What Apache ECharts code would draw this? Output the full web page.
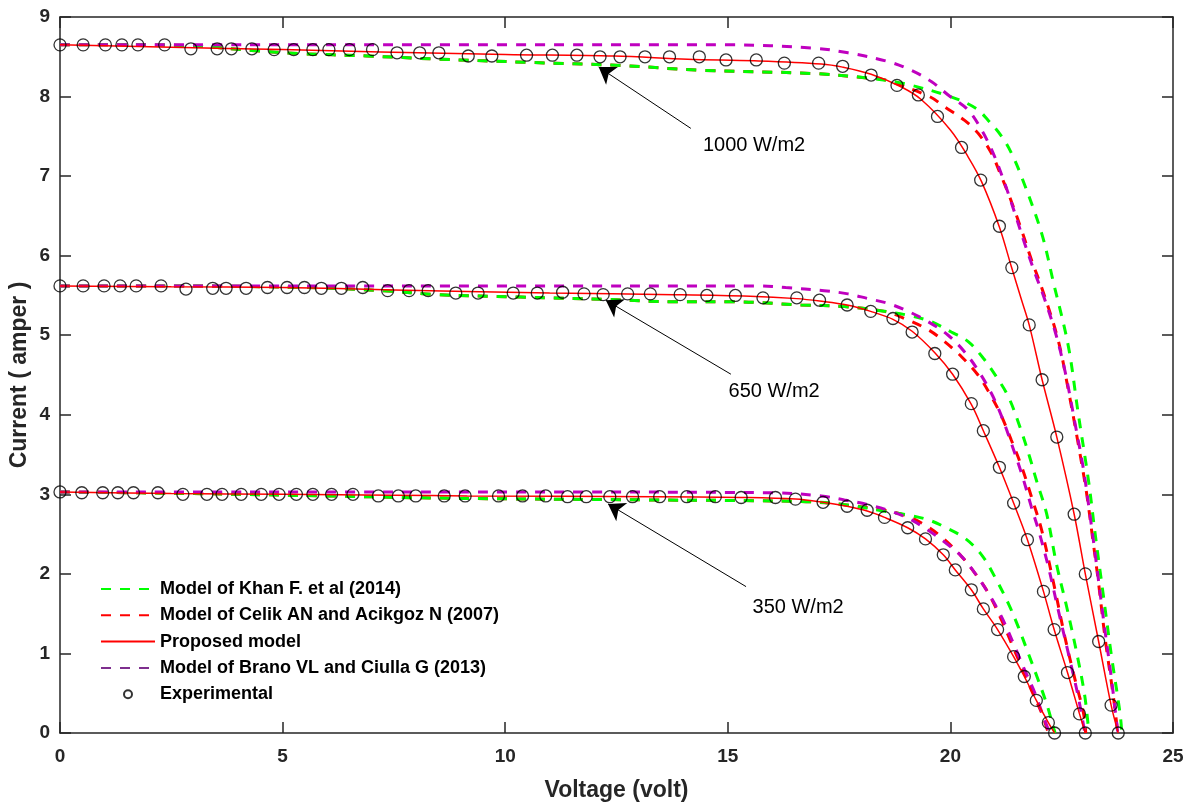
<!DOCTYPE html>
<html><head><meta charset="utf-8">
<script src="https://cdn.jsdelivr.net/npm/echarts@6/dist/echarts.min.js"></script>
<style>html,body{margin:0;padding:0;background:#fff}#c{width:1188px;height:803px}</style>
</head><body><div id="c"></div>
<script>
// ---------- axes ----------
const xRange = [0, 25], xStep = 5;
const yRange = [0, 9], yStep = 1;
const xTitle = 'Voltage (volt)';
const yTitle = 'Current ( amper )';
const legendNames = ['Model of Khan F. et al (2014)', 'Model of Celik AN and Acikgoz N (2007)', 'Proposed model', 'Model of Brano VL and Ciulla G (2013)', 'Experimental'];

// ---------- 1000 W/m2 ----------
const khan1000 = [[0,8.65],[1.5,8.65],[2.9,8.64],[4.3,8.58],[5.4,8.54],[6.9,8.51],[8.5,8.47],[10.5,8.43],[12.6,8.39],[14.4,8.33],[16.9,8.29],[18.2,8.23],[18.9,8.17],[20.0,8.00],[20.58,7.85],[20.85,7.70],[21.15,7.50],[21.37,7.29],[21.6,6.99],[22.05,6.28],[22.32,5.65],[22.65,4.86],[22.87,4.02],[23.10,3.18],[23.25,2.51],[23.44,1.71],[23.62,0.96],[23.81,0.25],[23.85,0]];
const celik1000 = [[0,8.65],[1.5,8.65],[2.9,8.64],[4.3,8.58],[5.4,8.54],[6.9,8.51],[8.5,8.47],[10.5,8.43],[12.6,8.39],[14.4,8.33],[16.9,8.29],[18.2,8.23],[18.52,8.21],[19.53,8.00],[19.87,7.87],[20.32,7.70],[20.62,7.54],[20.92,7.29],[21.15,6.99],[21.33,6.74],[21.60,6.32],[21.82,5.95],[22.08,5.55],[22.42,4.94],[22.65,4.31],[22.87,3.64],[23.06,3.01],[23.19,2.47],[23.32,1.92],[23.48,1.17],[23.66,0.46],[23.76,0]];
const brano1000 = [[0,8.65],[5,8.65],[10,8.65],[15,8.65],[16.9,8.61],[17.7,8.55],[18.6,8.44],[19.12,8.33],[19.57,8.19],[19.95,8.02],[20.4,7.83],[20.7,7.58],[20.96,7.29],[21.22,6.91],[21.45,6.53],[21.67,6.15],[21.9,5.78],[22.1,5.48],[22.35,5.05],[22.57,4.56],[22.80,3.89],[22.99,3.31],[23.13,2.76],[23.27,2.17],[23.44,1.42],[23.62,0.67],[23.76,0]];
const prop1000 = [[0,8.65],[2.5,8.62],[5,8.59],[7.2,8.56],[10,8.53],[12.45,8.51],[14.1,8.47],[15.6,8.45],[17.1,8.41],[17.58,8.37],[18.22,8.28],[18.9,8.12],[19.35,7.96],[20.0,7.58],[20.4,7.24],[20.7,6.93],[21.1,6.36],[21.37,5.86],[21.6,5.44],[21.77,5.13],[22.06,4.44],[22.39,3.72],[22.78,2.75],[23.03,2.0],[23.33,1.15],[23.61,0.35],[23.77,0]];
const exp1000 = [[0,8.65],[0.52,8.65],[1.02,8.65],[1.39,8.65],[1.75,8.65],[2.35,8.65],[2.94,8.60],[3.53,8.60],[3.85,8.60],[4.31,8.60],[4.81,8.59],[5.25,8.59],[5.68,8.59],[6.04,8.59],[6.50,8.59],[7.02,8.59],[7.57,8.55],[8.08,8.55],[8.51,8.55],[9.17,8.51],[9.70,8.51],[10.48,8.52],[11.06,8.52],[11.61,8.52],[12.13,8.50],[12.58,8.50],[13.14,8.50],[13.69,8.50],[14.36,8.50],[14.96,8.46],[15.64,8.46],[16.27,8.42],[17.04,8.42],[17.58,8.38],[18.22,8.27],[18.80,8.14],[19.28,8.02],[19.71,7.75],[20.25,7.36],[20.68,6.95],[21.10,6.37],[21.38,5.85],[21.77,5.13],[22.06,4.44],[22.39,3.72],[22.78,2.75],[23.03,2.00],[23.33,1.15],[23.61,0.35],[23.77,0]];

// ---------- 650 W/m2 ----------
const khan650 = [[0,5.62],[2.5,5.62],[5.47,5.60],[7.27,5.56],[8.47,5.51],[10.35,5.48],[12.3,5.45],[13.79,5.42],[15.14,5.42],[16.65,5.38],[17.62,5.36],[18.52,5.30],[19.05,5.25],[19.57,5.17],[20.02,5.04],[20.40,4.92],[20.74,4.71],[21.03,4.48],[21.30,4.23],[21.56,3.85],[21.78,3.47],[21.93,3.18],[22.16,2.76],[22.38,2.13],[22.61,1.59],[22.84,1.0],[23.02,0.46],[23.11,0]];
const celik650 = [[0,5.62],[2.5,5.62],[5.47,5.60],[7.27,5.56],[8.47,5.51],[10.35,5.48],[12.3,5.45],[13.79,5.42],[15.14,5.42],[16.65,5.38],[17.62,5.36],[18.52,5.30],[18.97,5.21],[19.50,5.07],[19.87,4.92],[20.25,4.73],[20.62,4.50],[20.92,4.23],[21.15,3.98],[21.37,3.68],[21.60,3.35],[21.82,2.97],[22.05,2.55],[22.35,1.80],[22.57,1.21],[22.80,0.67],[22.99,0.25],[23.04,0]];
const brano650 = [[0,5.62],[5,5.62],[10,5.62],[15.7,5.62],[16.3,5.60],[17.16,5.56],[17.7,5.52],[18.15,5.46],[18.6,5.40],[19.05,5.30],[19.5,5.17],[19.95,5.00],[20.32,4.79],[20.62,4.56],[20.92,4.27],[21.15,3.98],[21.37,3.64],[21.6,3.26],[21.82,2.84],[22.0,2.51],[22.2,2.09],[22.42,1.55],[22.65,1.0],[22.87,0.46],[23.02,0]];
const prop650 = [[0,5.62],[2.5,5.61],[5,5.60],[7.5,5.57],[9.13,5.55],[11,5.53],[13.8,5.51],[15.5,5.49],[16.55,5.46],[17.06,5.43],[17.68,5.38],[18.21,5.30],[18.71,5.20],[19.14,5.05],[19.65,4.78],[20.05,4.51],[20.47,4.13],[20.74,3.80],[21.1,3.34],[21.42,2.89],[21.73,2.43],[22.09,1.78],[22.33,1.30],[22.63,0.76],[22.9,0.24],[23.03,0]];
const exp650 = [[0,5.62],[0.52,5.62],[0.99,5.62],[1.35,5.62],[1.71,5.62],[2.27,5.62],[2.83,5.58],[3.43,5.59],[3.73,5.59],[4.18,5.59],[4.66,5.60],[5.10,5.60],[5.49,5.60],[5.87,5.59],[6.32,5.59],[6.80,5.60],[7.36,5.56],[7.84,5.56],[8.27,5.56],[8.89,5.53],[9.39,5.53],[10.18,5.53],[10.72,5.53],[11.29,5.54],[11.77,5.52],[12.20,5.51],[12.75,5.52],[13.26,5.52],[13.93,5.51],[14.53,5.50],[15.17,5.50],[15.79,5.47],[16.55,5.47],[17.06,5.44],[17.68,5.38],[18.21,5.30],[18.71,5.21],[19.14,5.04],[19.65,4.77],[20.05,4.51],[20.47,4.14],[20.74,3.80],[21.10,3.34],[21.42,2.89],[21.73,2.43],[22.09,1.78],[22.33,1.30],[22.63,0.76],[22.90,0.24],[23.03,0]];

// ---------- 350 W/m2 ----------
const khan350 = [[0,3.03],[3,3.01],[6,2.98],[8.84,2.95],[13.2,2.93],[16.65,2.91],[17.62,2.87],[18.59,2.78],[19.05,2.74],[19.5,2.68],[19.87,2.59],[20.32,2.45],[20.7,2.24],[21.0,1.96],[21.3,1.63],[21.52,1.34],[21.75,1.0],[21.97,0.67],[22.16,0.37],[22.29,0.12],[22.35,0]];
const celik350 = [[0,3.03],[3,3.01],[6,2.98],[8.84,2.95],[13.2,2.93],[16.65,2.91],[17.62,2.87],[18.52,2.80],[19.05,2.72],[19.5,2.59],[19.87,2.43],[20.25,2.22],[20.55,2.01],[20.85,1.76],[21.15,1.42],[21.37,1.13],[21.6,0.83],[21.82,0.54],[22.05,0.25],[22.2,0]];
const brano350 = [[0,3.03],[5,3.03],[10,3.03],[16.0,3.02],[17.1,2.98],[17.62,2.93],[18.15,2.87],[18.6,2.80],[19.05,2.70],[19.5,2.55],[19.87,2.40],[20.25,2.22],[20.55,2.01],[20.85,1.76],[21.15,1.46],[21.45,1.08],[21.67,0.79],[21.9,0.50],[22.12,0.16],[22.23,0]];
const prop350 = [[0,3.03],[2.5,3.01],[5,3.00],[7.5,2.99],[9.15,2.98],[13.35,2.97],[15.3,2.96],[16.52,2.94],[17.14,2.90],[17.68,2.85],[18.13,2.79],[18.52,2.71],[19.04,2.58],[19.44,2.44],[19.84,2.24],[20.11,2.05],[20.47,1.80],[20.74,1.56],[21.06,1.30],[21.42,0.96],[21.66,0.71],[21.93,0.41],[22.2,0.13],[22.34,0]];
const exp350 = [[0,3.03],[0.49,3.02],[0.96,3.02],[1.30,3.02],[1.65,3.02],[2.20,3.02],[2.76,3.00],[3.30,3.00],[3.64,3.00],[4.07,3.00],[4.52,3.00],[4.92,3.00],[5.31,3.00],[5.68,3.00],[6.10,3.00],[6.58,3.00],[7.15,2.98],[7.60,2.98],[7.99,2.98],[8.63,2.98],[9.10,2.98],[9.85,2.98],[10.39,2.98],[10.91,2.98],[11.40,2.97],[11.82,2.97],[12.35,2.97],[12.86,2.97],[13.47,2.97],[14.08,2.97],[14.72,2.97],[15.30,2.96],[16.07,2.96],[16.52,2.94],[17.14,2.90],[17.68,2.85],[18.13,2.80],[18.52,2.71],[19.04,2.58],[19.44,2.44],[19.84,2.24],[20.11,2.05],[20.47,1.80],[20.74,1.56],[21.06,1.30],[21.42,0.96],[21.66,0.71],[21.93,0.41],[22.20,0.13],[22.34,0]];

// ---------- annotations ----------
const annText = ['1000 W/m2', '650 W/m2', '350 W/m2'];
const arrowTail = [[14.17,7.60],[15.07,4.51],[15.41,1.84]];
const arrowTip = [[12.10,8.37],[12.26,5.44],[12.31,2.88]];
const annLabelAt = [[15.59,7.39],[16.04,4.29],[16.58,1.58]];

// ---------- styles ----------
const FONT = "Arial, 'Liberation Sans', Helvetica, sans-serif";
const AXC = '#262626';
const GREEN = '#00FF00', RED = '#FF0000', MAG = '#BF00BF', PURPLE_LEG = '#7E2F8E';
const DASH = [10, 9];

function curve(name, data, color, dashed, width, z) {
  return {
    type: 'line', name, data, symbol: 'none', showSymbol: false,
    smooth: 0.35, z,
    lineStyle: { color, width, type: dashed ? DASH : 'solid' },
    itemStyle: { color },
    emphasis: { disabled: true }, animation: false
  };
}

const series = [];
[celik1000, celik650, celik350].forEach(d => series.push(curve(legendNames[1], d, RED, true, 3, 2)));
[khan1000, khan650, khan350].forEach(d => series.push(curve(legendNames[0], d, GREEN, true, 3, 3)));
[brano1000, brano650, brano350].forEach((d, i) => series.push(curve('brano_' + i, d, MAG, true, 3, 4)));
series.push(curve(legendNames[3], [], PURPLE_LEG, true, 3, 4));
[prop1000, prop650, prop350].forEach(d => series.push(curve(legendNames[2], d, RED, false, 1.5, 5)));
series.push({
  type: 'scatter', name: legendNames[4], data: exp1000.concat(exp650, exp350),
  symbol: 'circle', symbolSize: 12, z: 6, animation: false,
  itemStyle: { color: 'rgba(0,0,0,0)', borderColor: '#000', borderWidth: 1.3 },
  emphasis: { disabled: true }
});
series.push({
  type: 'line', name: 'annotations', data: [], z: 7, animation: false, silent: true,
  markLine: {
    silent: true, animation: false, symbol: ['none', 'arrow'], symbolSize: 16,
    lineStyle: { color: '#000', width: 1, type: 'solid' },
    label: { show: false }, emphasis: { disabled: true },
    data: arrowTail.map((t, i) => [{ coord: t }, { coord: arrowTip[i] }])
  },
  markPoint: {
    silent: true, animation: false, symbol: 'rect', symbolSize: 1,
    itemStyle: { color: 'rgba(0,0,0,0)' },
    label: { show: true, position: 'inside', formatter: '{b}', color: '#000', fontSize: 20, fontFamily: FONT },
    data: annLabelAt.map((p, i) => ({ name: annText[i], coord: p }))
  }
});

const axisCommon = {
  axisLine: { show: true, onZero: false, lineStyle: { color: AXC, width: 1.5 } },
  axisTick: { show: true, inside: true, length: 11, lineStyle: { color: AXC, width: 1.5 } },
  splitLine: { show: false }
};

const chart = echarts.init(document.getElementById('c'), null, { renderer: 'canvas' });
chart.setOption({
  backgroundColor: '#fff',
  animation: false,
  grid: { left: 60, right: 15, top: 17, bottom: 70, containLabel: false, outerBoundsMode: 'none' },
  legend: {
    data: legendNames.map((n, i) => i < 4 ? { name: n, itemStyle: { opacity: 0 } } : { name: n }),
    orient: 'vertical', left: 100, top: 580, padding: 0,
    itemWidth: 54, itemHeight: 8, itemGap: 8.3, selectedMode: false,
    textStyle: { fontFamily: FONT, fontWeight: 'bold', fontSize: 18, color: '#000' }
  },
  xAxis: [
    Object.assign({ type: 'value', min: xRange[0], max: xRange[1], interval: xStep, position: 'bottom',
      name: xTitle, nameLocation: 'middle', nameGap: 46, nameMoveOverlap: false,
      nameTextStyle: { fontFamily: FONT, fontWeight: 'bold', fontSize: 23, color: AXC },
      axisLabel: { margin: 14, fontFamily: FONT, fontWeight: 'bold', fontSize: 19, color: AXC } }, axisCommon),
    Object.assign({ type: 'value', min: xRange[0], max: xRange[1], interval: xStep, position: 'top',
      axisLabel: { show: false } }, axisCommon)
  ],
  yAxis: [
    Object.assign({ type: 'value', min: yRange[0], max: yRange[1], interval: yStep, position: 'left',
      name: yTitle, nameLocation: 'middle', nameGap: 29, nameMoveOverlap: false,
      nameTextStyle: { fontFamily: FONT, fontWeight: 'bold', fontSize: 23, color: AXC },
      axisLabel: { margin: 10, fontFamily: FONT, fontWeight: 'bold', fontSize: 19, color: AXC } }, axisCommon),
    Object.assign({ type: 'value', min: yRange[0], max: yRange[1], interval: yStep, position: 'right',
      axisLabel: { show: false } }, axisCommon)
  ],
  series
});
</script>
</body></html>
